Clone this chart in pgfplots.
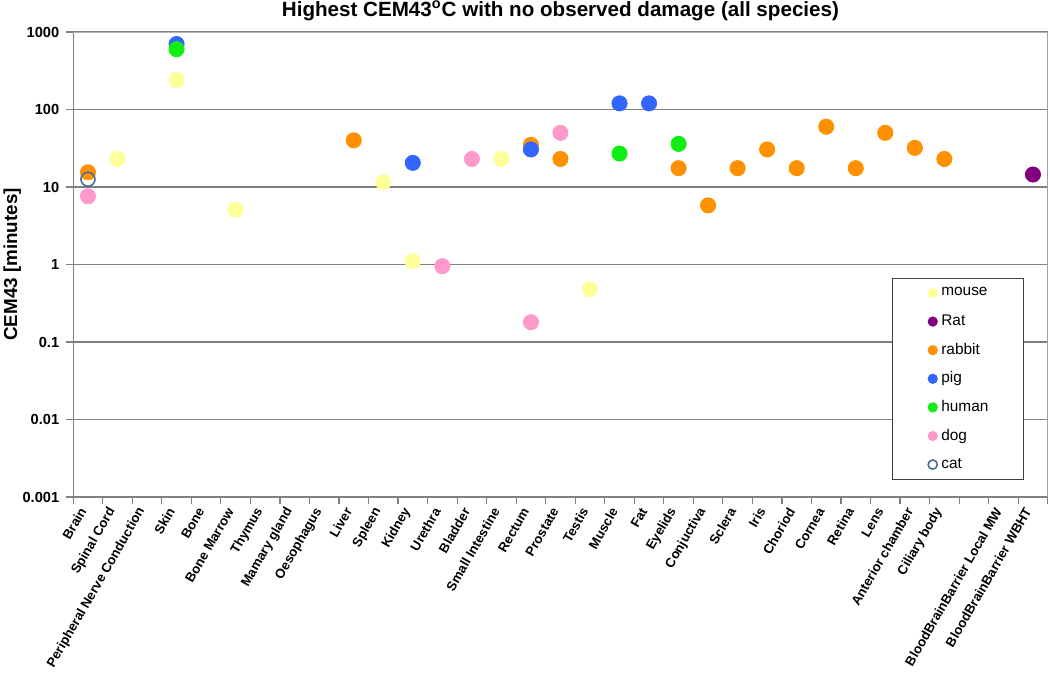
\documentclass[border=0pt]{standalone}
\usepackage{pgfplots}
\pgfplotsset{compat=1.18}
\usepackage{fontspec}
\setmainfont{Liberation Sans}

\definecolor{cmouse}{HTML}{FFFF99}
\definecolor{crat}{HTML}{800080}
\definecolor{crabbit}{HTML}{FF9000}
\definecolor{cpig}{HTML}{3366FF}
\definecolor{chuman}{HTML}{11EE11}
\definecolor{cdog}{HTML}{FF99CC}
\definecolor{ccat}{HTML}{4A6C9B}
\definecolor{gridgray}{HTML}{808080}
\definecolor{bordergray}{HTML}{B4B4B4}
\newcommand\lgd[1]{\makebox[39pt][l]{#1}}

\begin{document}
\begin{tikzpicture}
\begin{axis}[
  scale only axis, width=487.25pt, height=232.5pt,
  xmin=-0.5, xmax=32.5, ymode=log, ymin=0.001, ymax=1000,
  tick pos=left,
  axis line style={gridgray, line width=0.6pt},
  xtick={-0.5,0.5,...,32.5},
  x tick label as interval,
  xticklabels={Brain,Spinal Cord,Peripheral Nerve Conduction,Skin,Bone,Bone Marrow,Thymus,Mamary gland,Oesophagus,Liver,Spleen,Kidney,Urethra,Bladder,Small Intestine,Rectum,Prostate,Testis,Muscle,Fat,Eyelids,Conjuctiva,Sclera,Iris,Choriod,Cornea,Retina,Lens,Anterior chamber,Ciliary body,{},BloodBrainBarrier Local MW,BloodBrainBarrier WBHT,{}},
  xticklabel style={xshift=-2pt, yshift=-1.5pt, rotate=60, anchor=east, font=\bfseries\fontsize{6.6}{7.5}\selectfont, inner sep=1pt},
  ytick={0.001,0.01,0.1,1,10,100},
  yticklabels={\textbf{0.001},\textbf{0.01},\textbf{0.1},\textbf{1},\textbf{10},\textbf{100}},
  extra y ticks={1000}, extra y tick labels={\textbf{1000}}, extra y tick style={grid=none},
  yticklabel style={font=\bfseries\fontsize{7.3}{8}\selectfont},
  yminorticks=false, xminorticks=false,
  ymajorgrids, major grid style={gridgray, line width=0.6pt},
  tick align=outside, major tick length=3.5pt, tick style={gridgray, line width=0.6pt},
  title={Highest CEM43\textsuperscript{o}C with no observed damage (all species)},
  title style={font=\bfseries\fontsize{10.3}{11}\selectfont, at={(axis description cs:0.5,1)}, anchor=base, yshift=2pt},
  ylabel={CEM43 [minutes]},
  ylabel style={at={(axis description cs:-0.0626,0.5)}, anchor=center, font=\bfseries\fontsize{9.4}{10}\selectfont},
  legend style={at={(axis description cs:0.9755,0.0366)}, anchor=south east, draw=black!75, line width=0.5pt, inner xsep=0pt, inner ysep=0.3pt, row sep=0pt, font=\fontsize{7.7}{8}\selectfont, cells={anchor=west}},
  legend image code/.code={\path[draw=none] (0pt,-7.15pt) rectangle (21pt,7.15pt); \draw[#1, mark size=2.3pt] plot[only marks] coordinates {(20pt,0pt)};},
]
\addplot[only marks, mark=*, mark size=3.8pt, mark options={draw=cmouse, fill=cmouse}] coordinates {(1,23) (3,240) (5,5.1) (10,11.5) (11,1.1) (14,23) (17,0.48)};
\addlegendentry{\lgd{mouse}}
\addplot[only marks, mark=*, mark size=3.8pt, mark options={draw=crat, fill=crat}] coordinates {(32,14.5)};
\addlegendentry{\lgd{Rat}}
\addplot[only marks, mark=*, mark size=3.8pt, mark options={draw=crabbit, fill=crabbit}] coordinates {(0,15.5) (9,40) (15,35) (16,23) (20,17.5) (21,5.8) (22,17.5) (23,30.5) (24,17.5) (25,60) (26,17.5) (27,50) (28,32) (29,23)};
\addlegendentry{\lgd{rabbit}}
\addplot[only marks, mark=*, mark size=3.8pt, mark options={draw=cpig, fill=cpig}] coordinates {(3,700) (11,20.5) (15,30.5) (18,120) (19,120)};
\addlegendentry{\lgd{pig}}
\addplot[only marks, mark=*, mark size=3.8pt, mark options={draw=chuman, fill=chuman}] coordinates {(3,600) (18,27) (20,36)};
\addlegendentry{\lgd{human}}
\addplot[only marks, mark=*, mark size=3.8pt, mark options={draw=cdog, fill=cdog}] coordinates {(0,7.6) (12,0.95) (13,23) (15,0.18) (16,50)};
\addlegendentry{\lgd{dog}}
\addplot[only marks, mark=o, mark size=3.5pt, mark options={draw=ccat, fill=none, line width=0.8pt}] coordinates {(0,12.6)};
\addlegendentry{\lgd{cat}}
\draw[bordergray, line width=0.6pt] (rel axis cs:0,1) -- (rel axis cs:1,1) -- (rel axis cs:1,0);
\coordinate (bl) at (rel axis cs:0,0);
\coordinate (tr) at (rel axis cs:1,1);
\end{axis}
\pgfresetboundingbox
\path ([shift={(-36.6pt,-89.5pt)}]bl) rectangle ([shift={(1.15pt,16pt)}]tr);
\end{tikzpicture}
\end{document}
